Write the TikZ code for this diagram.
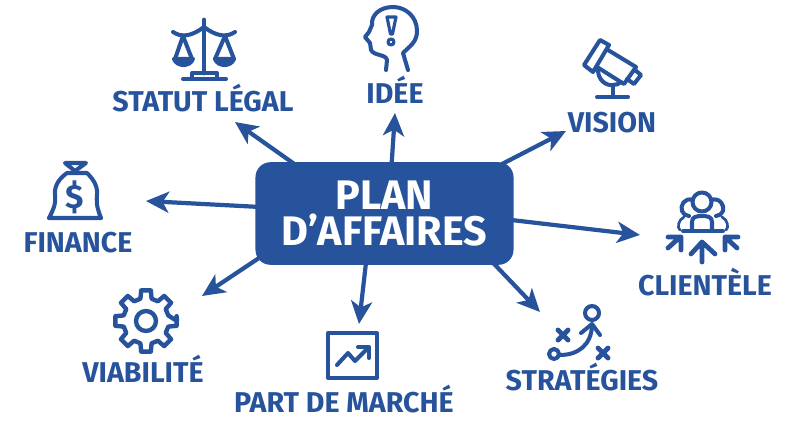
\documentclass[tikz,border=0pt]{standalone}
\usepackage{fontspec}
\setmainfont{Fira Sans}
\usepackage{xcolor}
\usepackage{tikz}
\usetikzlibrary{arrows.meta}
\definecolor{planblue}{HTML}{26539B}
\tikzset{
  spoke/.style={draw=planblue, line width=2.4pt, shorten <=-3pt, -{Stealth[length=13pt, width=12pt, inset=3.5pt]}},
  icon/.style={draw=planblue, line width=2.3pt, line cap=round, line join=round},
  iconfill/.style={icon, fill=planblue},
  lab/.style={text=planblue, font=\fontsize{16.3}{18}\selectfont\bfseries, anchor=base, inner sep=0pt},
  hub/.style={fill=planblue, rounded corners=8.5pt, minimum width=259*0.567pt, minimum height=103*0.567pt,
    text=white, align=center, inner sep=0pt, font=\fontsize{23.5}{20}\selectfont\bfseries},
}
\begin{document}
\begin{tikzpicture}[x=0.02cm,y=-0.02cm]
  \useasboundingbox (0,0) rectangle (800,427);
  \node[hub] (plan) at (384.5,213.5) {PLAN\\D'AFFAIRES};

  \coordinate (tipLegal) at (235,122);
  \coordinate (tipIdee) at (395,113);
  \coordinate (tipVision) at (566,131);
  \coordinate (tipClient) at (640,235);
  \coordinate (tipStrat) at (540,312);
  \coordinate (tipPart) at (359,324);
  \coordinate (tipViab) at (202,296);
  \coordinate (tipFin) at (146,201);
  \draw[spoke] (plan.151) -- (tipLegal);
  \draw[spoke] (plan.82) -- (tipIdee);
  \draw[spoke] (plan.23) -- (tipVision);
  \draw[spoke] (plan.-3) -- (tipClient);
  \draw[spoke] (plan.-25) -- (tipStrat);
  \draw[spoke] (plan.-110) -- (tipPart);
  \draw[spoke] (plan.200) -- (tipViab);
  \draw[spoke] (plan.177) -- (tipFin);

  \node[lab] (legal) at (203,111) {STATUT LÉGAL};
  \node[lab] (idee) at (395,103) {IDÉE};
  \node[lab] (vision) at (612,132) {VISION};
  \node[lab] (client) at (705,295) {CLIENTÈLE};
  \node[lab] (strat) at (582,390) {STRATÉGIES};
  \node[lab] (part) at (344,412) {PART DE MARCHÉ};
  \node[lab] (viab) at (143,382) {VIABILITÉ};
  \node[lab] (fin) at (78,252) {FINANCE};

  \draw[icon, line width=2.8pt] (204,20) -- (204,73);
  \draw[icon] (183,79) -- (226,79) (192,79) -- (192,73) -- (217,73) -- (217,79);
  \draw[icon] (173,32) .. controls (182,38) and (192,36) .. (204,27) .. controls (216,36) and (226,38) .. (235,32);
  \draw[icon] (175,59) -- (183,36) -- (192,59) (215,59) -- (225,36) -- (234,59);
  \draw[iconfill] (174,59) -- (193,59) .. controls (190,67) and (177,67) .. (174,59);
  \draw[iconfill] (215,59) -- (234,59) .. controls (231,67) and (218,67) .. (215,59);

  \draw[icon] (408,70) -- (403,53) .. controls (410,46) and (417,42) .. (417,31)
    .. controls (417,16) and (405,7) .. (393,7) .. controls (380,7) and (371,15) .. (372,25)
    -- (369,32) -- (365,37) -- (370,43) -- (371,50) .. controls (374,56) and (386,54) .. (387,60) -- (386,70);
  \draw[icon, line width=1.8pt] (387,17) -- (396,17) -- (392.5,34) -- (390.5,34) -- cycle;
  \draw[icon, line width=1.8pt] (391,42) circle (3);

  \draw[icon] (600,40) -- (609,45) -- (593,72) -- (584,65) -- cycle;
  \draw[icon] (608,50) -- (636,67) -- (624,84) -- (597,67);
  \draw[icon] (635,70) -- (641,75) -- (634,84) -- (627,79);
  \draw[icon] (598,70) .. controls (598,80) and (606,86) .. (613,85) .. controls (616,85) and (619,84) .. (621,82);
  \draw[icon] (613,85) -- (613,97) (597,97) -- (628,97);

  \draw[icon] (702,202) circle (9.5);
  \draw[icon] (693,200) .. controls (684,197) and (680,206) .. (682,211) .. controls (683,214) and (686,216) .. (689,216);
  \draw[icon] (711,200) .. controls (720,197) and (725,206) .. (723,211) .. controls (722,214) and (719,216) .. (716,216);
  \draw[icon] (683,231) -- (723,231);
  \draw[icon] (692,230) -- (692,222) .. controls (692,217) and (696,216) .. (702,216) .. controls (708,216) and (712,217) .. (712,222) -- (712,230);
  \draw[icon, line width=1.5pt] (680,230) .. controls (677,228) and (678,220) .. (684,217);
  \draw[icon, line width=1.5pt] (726,230) .. controls (729,228) and (728,220) .. (722,217);
  \draw[icon, line width=2.7pt] (702,262) -- (702,243) (691,254) -- (702,242) -- (715,254);
  \draw[icon, line width=2.7pt] (668,248) -- (680,237) (668,237) -- (681,237) -- (681,250);
  \draw[icon, line width=2.7pt] (737,248) -- (725,237) (738,237) -- (725,237) -- (725,250);

  \draw[icon] (49,218) -- (101,218) (49,218) .. controls (53,210) and (56,205) .. (55,195)
    .. controls (54,185) and (60,178) .. (67,173) -- (87,173)
    .. controls (92,178) and (98,185) .. (97,195) .. controls (96,205) and (98,210) .. (101,218);
  \draw[icon] (65,163) -- (86,163) -- (75,171) -- cycle;
  \node[text=planblue, font=\fontsize{19}{19}\selectfont\bfseries, inner sep=0pt] (dollar) at (75,197) {\$};

  \begin{scope}[shift={(146,321)}]
    \draw[icon, line width=2.5pt] (0,0) circle (10);
    \draw[icon, line width=2.5pt] (0:31) \foreach \a in {0,45,...,315} {
      -- (\a-9:31) -- (\a+9:31) -- (\a+14:23) -- (\a+31:23) } -- cycle;
  \end{scope}

  \draw[icon] (328,333) rectangle (377,378);
  \draw[icon] (337,365) -- (348,353) -- (355,361) -- (368,348);
  \draw[icon] (358,347) -- (369,347) -- (369,358);

  \draw[icon] (592,313) circle (7);
  \draw[icon] (554,354) circle (5);
  \draw[icon] (560,355) .. controls (578,355) and (591,345) .. (592,326);
  \draw[icon] (581,333) -- (592,324) -- (600,335);
  \draw[icon, line width=2.8pt] (558,330) -- (568,340) (558,340) -- (568,330);
  \draw[icon, line width=2.8pt] (598,348) -- (608,358) (598,358) -- (608,348);
\end{tikzpicture}
\end{document}
